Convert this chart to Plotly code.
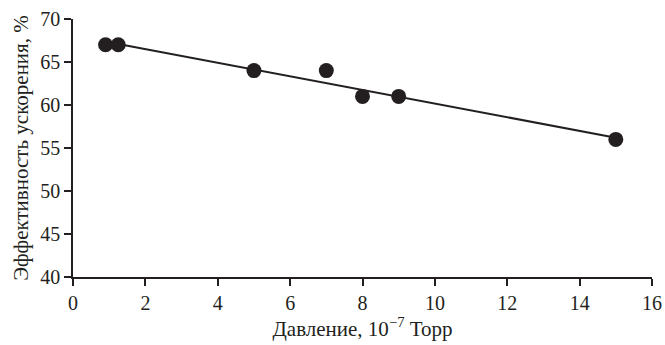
import plotly.graph_objects as go

pressure = [0.9, 1.25, 5, 7, 8, 9, 15]
efficiency = [67, 67, 64, 64, 61, 61, 56]
fit_x = [1.25, 15]
fit_y = [67.1, 56.2]
x_ticks = [0, 2, 4, 6, 8, 10, 12, 14, 16]
y_ticks = [40, 45, 50, 55, 60, 65, 70]

ink = "#231f20"
fam = "Liberation Serif, Times New Roman, serif"
tick_font = dict(family=fam, size=20, color=ink)

fig = go.Figure()
fig.add_trace(go.Scatter(x=fit_x, y=fit_y, mode="lines",
                         line=dict(color=ink, width=2), showlegend=False))
fig.add_trace(go.Scatter(x=pressure, y=efficiency, mode="markers",
                         marker=dict(color=ink, size=15), showlegend=False,
                         cliponaxis=False))

axis_common = dict(showgrid=False, zeroline=False, showline=True, linecolor=ink,
                   linewidth=1.5, ticks="outside", ticklen=7, tickwidth=1.5,
                   tickcolor=ink, tickfont=tick_font, automargin=False)

fig.update_layout(
    width=665, height=345,
    margin=dict(l=73, r=13, t=19, b=68),
    paper_bgcolor="white", plot_bgcolor="white",
    font=tick_font,
    xaxis=dict(range=[0, 16], tickvals=x_ticks, **axis_common,
               title=dict(text="Давление, 10<sup>−7</sup> Торр",
                          font=dict(family=fam, size=21, color=ink), standoff=8)),
    yaxis=dict(range=[40, 70], tickvals=y_ticks, **axis_common,
               title=dict(text="Эффективность ускорения, %",
                          font=dict(family=fam, size=21, color=ink), standoff=6)),
)

fig.write_html("out.html", config={"displayModeBar": False},
               post_script="document.body.style.margin='0';document.body.style.overflow='hidden';")
